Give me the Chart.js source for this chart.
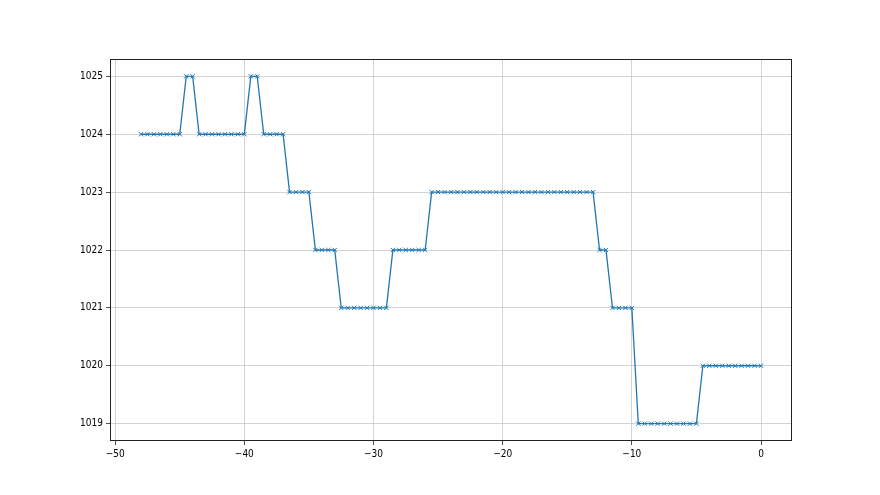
<!DOCTYPE html>
<html>
<head>
<meta charset="utf-8">
<script src="https://cdn.jsdelivr.net/npm/chart.js@4/dist/chart.umd.min.js"></script>
<style>
  html, body { margin: 0; padding: 0; background: #fff; }
  canvas { display: block; }
</style>
</head>
<body>
<canvas id="pressureChart" width="880" height="495"></canvas>
<script>
// hours before now (x) and pressure reading (y)
const hours = [
  -48, -47.5, -47, -46.5, -46, -45.5, -45, -44.5, -44, -43.5,
  -43, -42.5, -42, -41.5, -41, -40.5, -40, -39.5, -39, -38.5,
  -38, -37.5, -37, -36.5, -36, -35.5, -35, -34.5, -34, -33.5,
  -33, -32.5, -32, -31.5, -31, -30.5, -30, -29.5, -29, -28.5,
  -28, -27.5, -27, -26.5, -26, -25.5, -25, -24.5, -24, -23.5,
  -23, -22.5, -22, -21.5, -21, -20.5, -20, -19.5, -19, -18.5,
  -18, -17.5, -17, -16.5, -16, -15.5, -15, -14.5, -14, -13.5,
  -13, -12.5, -12, -11.5, -11, -10.5, -10, -9.5, -9, -8.5,
  -8, -7.5, -7, -6.5, -6, -5.5, -5, -4.5, -4, -3.5,
  -3, -2.5, -2, -1.5, -1, -0.5, 0
];
const pressure = [
  1024, 1024, 1024, 1024, 1024, 1024, 1024, 1025, 1025, 1024,
  1024, 1024, 1024, 1024, 1024, 1024, 1024, 1025, 1025, 1024,
  1024, 1024, 1024, 1023, 1023, 1023, 1023, 1022, 1022, 1022,
  1022, 1021, 1021, 1021, 1021, 1021, 1021, 1021, 1021, 1022,
  1022, 1022, 1022, 1022, 1022, 1023, 1023, 1023, 1023, 1023,
  1023, 1023, 1023, 1023, 1023, 1023, 1023, 1023, 1023, 1023,
  1023, 1023, 1023, 1023, 1023, 1023, 1023, 1023, 1023, 1023,
  1023, 1022, 1022, 1021, 1021, 1021, 1021, 1019, 1019, 1019,
  1019, 1019, 1019, 1019, 1019, 1019, 1019, 1020, 1020, 1020,
  1020, 1020, 1020, 1020, 1020, 1020, 1020
];
const xTicks = [-50, -40, -30, -20, -10, 0];
const yTicks = [1019, 1020, 1021, 1022, 1023, 1024, 1025];

const points = hours.map((h, i) => ({ x: h, y: pressure[i] }));

// matplotlib-like frame on all four sides
const frame = {
  id: 'frame',
  afterDraw(chart) {
    const a = chart.chartArea;
    const c = chart.ctx;
    c.save();
    c.strokeStyle = '#222';
    c.lineWidth = 1;
    c.strokeRect(a.left + 0.5, a.top + 0.5, a.right - a.left - 1, a.bottom - a.top - 1);
    c.restore();
  }
};

const minus = v => String(v).replace('-', '\u2212');
const tickFont = { family: "'Liberation Sans Narrow', 'DejaVu Sans Condensed', 'DejaVu Sans'", size: 10 };

const ctx = document.getElementById('pressureChart').getContext('2d');
const chart = new Chart(ctx, {
  type: 'line',
  data: {
    datasets: [{
      data: points,
      borderColor: '#1f77b4',
      borderWidth: 1.3,
      pointStyle: 'crossRot',
      pointRadius: 3,
      pointBorderColor: '#1f77b4',
      pointBorderWidth: 1,
      pointHoverRadius: 3,
      tension: 0,
      fill: false
    }]
  },
  options: {
    responsive: false,
    animation: false,
    layout: { padding: { top: 59, right: 88, left: 0, bottom: 0 } },
    plugins: { legend: { display: false }, tooltip: { enabled: false } },
    scales: {
      x: {
        type: 'linear',
        min: -50.4,
        max: 2.4,
        afterBuildTicks: s => { s.ticks = xTicks.map(v => ({ value: v })); },
        afterFit: s => { s.height = 54; },
        grid: { color: '#c8c8c8', tickColor: '#222', tickLength: 4, lineWidth: 0.8 },
        border: { display: false },
        ticks: {
          color: '#000',
          padding: 3,
          maxRotation: 0,
          font: tickFont,
          callback: v => minus(v)
        }
      },
      y: {
        min: 1018.7,
        max: 1025.3,
        afterBuildTicks: s => { s.ticks = yTicks.map(v => ({ value: v })); },
        afterFit: s => { s.width = 110; },
        grid: { color: '#c8c8c8', tickColor: '#222', tickLength: 4, lineWidth: 0.8 },
        border: { display: false },
        ticks: {
          color: '#000',
          padding: 3,
          font: tickFont,
          callback: v => String(v)
        }
      }
    }
  },
  plugins: [frame]
});
</script>
</body>
</html>
